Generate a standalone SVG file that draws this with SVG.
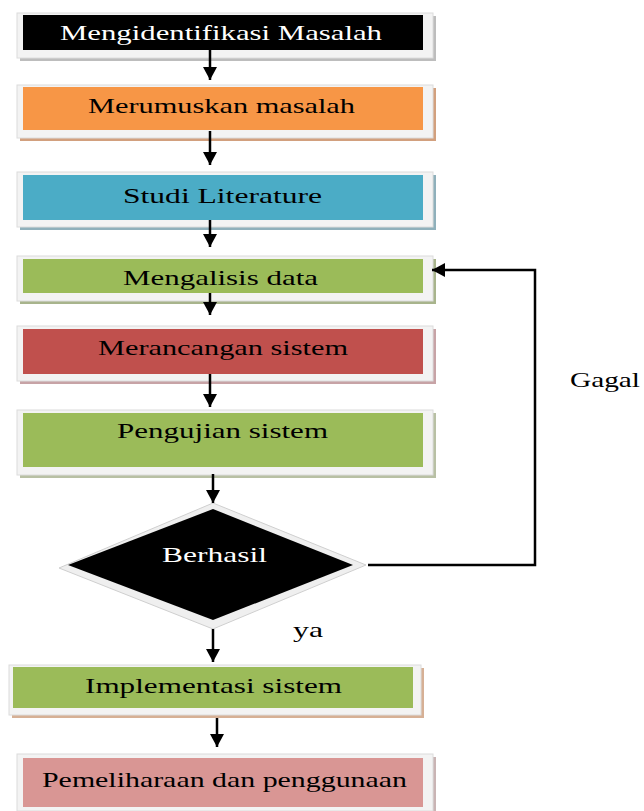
<svg xmlns="http://www.w3.org/2000/svg" width="644" height="811" viewBox="0 0 644 811">
<style>
.frame{fill:#f3f3f3;stroke:#dcdcdc;stroke-width:1}
.lbl{font-family:"Liberation Serif","Times New Roman",serif;font-size:22px;fill:#000}
.wlbl{font-family:"Liberation Serif","Times New Roman",serif;font-size:22px;fill:#fff}
.conn{stroke:#000;stroke-width:2.5;fill:none}
</style>
<defs>
<marker id="ah" markerUnits="userSpaceOnUse" markerWidth="14" markerHeight="14" refX="13" refY="7" orient="auto">
<path d="M0,0 L13,7 L0,14 z" fill="#000"/>
</marker>
</defs>
<rect width="644" height="811" fill="#fff"/>
<g id="n1">
<rect x="20" y="16" width="416" height="45" fill="#bdbdbd"/>
<rect class="frame" x="17" y="13" width="416" height="45"/>
<rect x="23" y="15" width="400" height="35" fill="#000"/>
<text class="wlbl" x="60" y="40" textLength="322" lengthAdjust="spacingAndGlyphs">Mengidentifikasi Masalah</text>
</g>
<g id="n2">
<rect x="20" y="88" width="416" height="53" fill="#d2a07e"/>
<rect class="frame" x="17" y="85" width="416" height="53"/>
<rect x="23" y="87" width="400" height="43" fill="#F79646"/>
<text class="lbl" x="88" y="113" textLength="267" lengthAdjust="spacingAndGlyphs">Merumuskan masalah</text>
</g>
<g id="n3">
<rect x="20" y="175" width="416" height="55" fill="#8fb0bb"/>
<rect class="frame" x="17" y="172" width="416" height="55"/>
<rect x="23" y="175" width="400" height="45" fill="#4BACC6"/>
<text class="lbl" x="123" y="203" textLength="199" lengthAdjust="spacingAndGlyphs">Studi Literature</text>
</g>
<g id="n4">
<rect x="20" y="259" width="416" height="45" fill="#a8b48c"/>
<rect class="frame" x="17" y="256" width="416" height="45"/>
<rect x="23" y="259" width="400" height="34" fill="#9BBB59"/>
<text class="lbl" x="123" y="285" textLength="195" lengthAdjust="spacingAndGlyphs">Mengalisis data</text>
</g>
<g id="n5">
<rect x="20" y="329" width="416" height="55" fill="#c7a3a6"/>
<rect class="frame" x="17" y="326" width="416" height="55"/>
<rect x="23" y="329" width="400" height="45" fill="#C0504D"/>
<text class="lbl" x="98" y="355" textLength="250" lengthAdjust="spacingAndGlyphs">Merancangan sistem</text>
</g>
<g id="n6">
<rect x="20" y="413" width="416" height="65" fill="#b8c0a4"/>
<rect class="frame" x="17" y="410" width="416" height="65"/>
<rect x="23" y="413" width="400" height="54" fill="#9BBB59"/>
<text class="lbl" x="117" y="438" textLength="211" lengthAdjust="spacingAndGlyphs">Pengujian sistem</text>
</g>
<g id="n7">
<polygon points="213,503 366,565 213,629 59,568" fill="#efefef" stroke="#cfcfcf" stroke-width="1"/>
<polygon points="213,509 353,565 213,620 68,565" fill="#000"/>
<text class="wlbl" x="162" y="562" textLength="105" lengthAdjust="spacingAndGlyphs">Berhasil</text>
</g>
<g id="n8">
<rect x="12" y="668" width="412" height="50" fill="#d6b095"/>
<rect class="frame" x="9" y="665" width="412" height="50"/>
<rect x="13" y="667" width="400" height="41" fill="#9BBB59"/>
<text class="lbl" x="85" y="693" textLength="257" lengthAdjust="spacingAndGlyphs">Implementasi sistem</text>
</g>
<g id="n9">
<rect x="20" y="757" width="416" height="54" fill="#c9b4b4"/>
<rect class="frame" x="17" y="754" width="416" height="57"/>
<rect x="23" y="758" width="400" height="49" fill="#D99694"/>
<text class="lbl" x="42" y="787" textLength="365" lengthAdjust="spacingAndGlyphs">Pemeliharaan dan penggunaan</text>
</g>
<g id="connectors">
<line class="conn" x1="210" y1="50" x2="210" y2="80" marker-end="url(#ah)"/>
<line class="conn" x1="210" y1="131" x2="210" y2="165" marker-end="url(#ah)"/>
<line class="conn" x1="210" y1="220" x2="210" y2="247" marker-end="url(#ah)"/>
<line class="conn" x1="210" y1="293" x2="210" y2="315" marker-end="url(#ah)"/>
<line class="conn" x1="210" y1="374" x2="210" y2="407" marker-end="url(#ah)"/>
<line class="conn" x1="213" y1="474" x2="213" y2="503" marker-end="url(#ah)"/>
<line class="conn" x1="213" y1="629" x2="213" y2="662" marker-end="url(#ah)"/>
<line class="conn" x1="217" y1="718" x2="217" y2="747" marker-end="url(#ah)"/>
<polyline class="conn" points="368,565 535,565 535,270 432,270" marker-end="url(#ah)"/>
<text class="lbl" x="570" y="387" textLength="70" lengthAdjust="spacingAndGlyphs">Gagal</text>
<text class="lbl" x="293" y="637" textLength="30" lengthAdjust="spacingAndGlyphs">ya</text>
</g>
</svg>
